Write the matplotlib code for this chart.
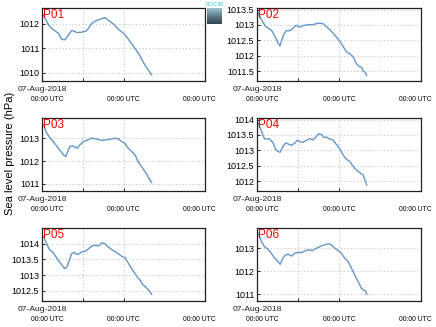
import numpy as np
import matplotlib
matplotlib.use("Agg")
import matplotlib.pyplot as plt
from matplotlib.transforms import ScaledTranslation
from matplotlib.colors import LinearSegmentedColormap

plt.rcParams['font.family'] = ['Liberation Sans', 'DejaVu Sans']

# Hours since 07-Aug-2018 00:00 UTC and sea level pressure (hPa) per station
hours_p01 = [0.4, 1.9, 2.8, 4.8, 5.8, 6.8, 7.8, 8.7, 9.4, 10.2, 11.7, 13.0, 13.7, 14.7,
             15.7, 17.1, 18.6, 19.5, 21.0, 22.5, 24.0, 24.9, 25.9, 27.4, 28.9, 30.0, 31.3, 32.3]
slp_p01 = [1012.37, 1011.96, 1011.82, 1011.62, 1011.37, 1011.35, 1011.55, 1011.73, 1011.71,
           1011.65, 1011.66, 1011.71, 1011.82, 1012.03, 1012.12, 1012.19, 1012.26, 1012.16,
           1012.00, 1011.78, 1011.62, 1011.48, 1011.28, 1011.00, 1010.69, 1010.39, 1010.12, 1009.92]

hours_p02 = [0.3, 1.3, 2.5, 3.7, 4.5, 5.5, 6.2, 6.7, 7.1, 7.8, 8.6, 9.6, 10.6, 11.5, 12.5,
             13.5, 15.0, 16.4, 17.9, 19.4, 20.3, 21.8, 23.3, 24.3, 25.2, 26.2, 27.7, 28.4,
             29.1, 29.9, 30.6, 31.1, 31.6, 32.1]
slp_p02 = [1013.39, 1013.17, 1012.95, 1012.87, 1012.79, 1012.57, 1012.41, 1012.32, 1012.46,
           1012.68, 1012.82, 1012.81, 1012.90, 1012.99, 1012.93, 1012.98, 1013.01, 1013.01,
           1013.06, 1013.04, 1012.95, 1012.79, 1012.60, 1012.46, 1012.30, 1012.13, 1012.02,
           1011.91, 1011.74, 1011.65, 1011.63, 1011.50, 1011.47, 1011.36]

hours_p03 = [0.4, 1.4, 2.4, 3.3, 4.3, 5.3, 6.3, 7.0, 7.6, 8.2, 9.0, 9.7, 10.4, 11.2, 12.2,
             13.1, 14.6, 16.1, 17.6, 19.0, 20.5, 21.5, 22.5, 23.4, 24.4, 25.4, 26.4, 27.4,
             28.1, 28.9, 29.6, 30.3, 31.0, 31.6, 32.3]
slp_p03 = [1013.58, 1013.22, 1013.00, 1012.85, 1012.66, 1012.46, 1012.27, 1012.20, 1012.42,
           1012.64, 1012.66, 1012.61, 1012.56, 1012.71, 1012.85, 1012.90, 1013.00, 1012.96,
           1012.90, 1012.93, 1012.96, 1013.00, 1012.97, 1012.85, 1012.78, 1012.56, 1012.42,
           1012.27, 1012.05, 1011.83, 1011.69, 1011.54, 1011.39, 1011.20, 1011.06]

hours_p04 = [0.3, 1.3, 2.2, 3.7, 4.7, 5.5, 6.2, 6.8, 7.6, 8.4, 9.1, 10.1, 11.1, 11.8, 12.5,
             13.5, 14.5, 15.5, 16.4, 17.4, 18.1, 18.9, 19.6, 20.3, 21.3, 22.3, 23.3, 24.3,
             25.2, 26.2, 27.2, 27.9, 28.6, 29.6, 30.4, 31.1, 31.4, 31.8, 32.1]
slp_p04 = [1013.89, 1013.62, 1013.37, 1013.37, 1013.24, 1013.02, 1012.96, 1012.94, 1013.13,
           1013.24, 1013.21, 1013.16, 1013.24, 1013.33, 1013.28, 1013.26, 1013.33, 1013.38,
           1013.34, 1013.45, 1013.54, 1013.51, 1013.42, 1013.43, 1013.37, 1013.33, 1013.18,
           1013.04, 1012.85, 1012.71, 1012.63, 1012.52, 1012.41, 1012.32, 1012.25, 1012.20,
           1012.09, 1011.98, 1011.87]

hours_p05 = [0.4, 1.4, 2.2, 3.1, 3.8, 4.8, 5.8, 6.7, 7.3, 7.9, 8.7, 9.4, 10.2, 10.9, 11.7,
             12.7, 13.7, 14.7, 15.7, 16.7, 17.6, 18.6, 19.6, 20.6, 21.6, 22.5, 23.5, 24.5,
             25.5, 26.4, 27.4, 28.1, 28.9, 29.6, 30.3, 31.0, 31.6, 32.3]
slp_p05 = [1014.23, 1014.00, 1013.81, 1013.74, 1013.63, 1013.47, 1013.33, 1013.21, 1013.26,
           1013.42, 1013.68, 1013.73, 1013.66, 1013.68, 1013.74, 1013.76, 1013.84, 1013.93,
           1013.95, 1013.93, 1014.03, 1014.00, 1013.89, 1013.81, 1013.74, 1013.68, 1013.60,
           1013.55, 1013.37, 1013.21, 1013.05, 1012.94, 1012.84, 1012.71, 1012.65, 1012.57,
           1012.50, 1012.39]

hours_p06 = [0.3, 1.3, 2.2, 3.2, 4.2, 5.2, 6.2, 6.8, 7.4, 8.1, 9.1, 10.1, 11.0, 12.0, 13.0,
             14.0, 15.0, 16.2, 17.4, 18.4, 19.6, 20.8, 21.8, 22.8, 23.8, 24.7, 25.7, 26.7,
             27.7, 28.4, 29.1, 29.9, 30.6, 31.3, 31.8, 32.1]
slp_p06 = [1013.66, 1013.29, 1013.07, 1012.96, 1012.78, 1012.56, 1012.42, 1012.30, 1012.52,
           1012.68, 1012.75, 1012.66, 1012.78, 1012.82, 1012.81, 1012.88, 1012.93, 1012.90,
           1013.00, 1013.07, 1013.15, 1013.19, 1013.15, 1013.00, 1012.90, 1012.78, 1012.56,
           1012.42, 1012.12, 1011.90, 1011.69, 1011.47, 1011.25, 1011.18, 1011.15, 1011.00]

station_names = ["P01", "P02", "P03", "P04", "P05", "P06"]
station_hours = [hours_p01, hours_p02, hours_p03, hours_p04, hours_p05, hours_p06]
station_slp = [slp_p01, slp_p02, slp_p03, slp_p04, slp_p05, slp_p06]
y_limits = [(1009.67, 1012.65), (1011.18, 1013.55), (1010.69, 1013.88),
            (1011.68, 1014.05), (1012.18, 1014.5), (1010.71, 1013.88)]
y_ticks = [[1010, 1011, 1012], [1011.5, 1012, 1012.5, 1013, 1013.5], [1011, 1012, 1013],
           [1012, 1012.5, 1013, 1013.5, 1014], [1012.5, 1013, 1013.5, 1014], [1011, 1012, 1013]]
x_tick_hours = [0, 24, 48]
x_tick_labels = ["00:00 UTC", "00:00 UTC", "00:00 UTC"]
date_label = "07-Aug-2018"

W, H = 436, 327
fig = plt.figure(figsize=(W / 100, H / 100), dpi=100)

col_left = [42, 257]
col_width = [163, 164]
row_top = [8, 118, 228]
row_height = 73

line_color = "#6496c8"
grid_kw = dict(color="#c4c4c4", linestyle=(0, (1, 2)), linewidth=0.8)

for i, name in enumerate(station_names):
    r, c = divmod(i, 2)
    x0 = col_left[c] / W
    y0 = 1 - (row_top[r] + row_height) / H
    ax = fig.add_axes([x0, y0, col_width[c] / W, row_height / H])
    ax.plot(station_hours[i], station_slp[i], color=line_color, linewidth=1.0)
    ax.set_xlim(0, 48)
    ax.set_ylim(*y_limits[i])
    ax.set_yticks(y_ticks[i])
    ax.set_yticklabels([f"{v:g}" for v in y_ticks[i]], fontsize=6.5)
    ax.set_xticks(x_tick_hours)
    ax.set_xticks([12], minor=True)
    ax.set_xticklabels(x_tick_labels, fontsize=4.9)
    ax.tick_params(axis="both", which="both", direction="in", length=2, width=0.6)
    ax.tick_params(axis="x", which="major", pad=10.5)
    ax.tick_params(axis="y", pad=2)
    ax.grid(True, which="both", **grid_kw)
    for s in ax.spines.values():
        s.set_linewidth(0.9)
        s.set_color("#202020")
    # nudge the outer time labels inward
    labels = ax.get_xticklabels()
    labels[0].set_transform(labels[0].get_transform() + ScaledTranslation(5 / 100, 0, fig.dpi_scale_trans))
    labels[-1].set_transform(labels[-1].get_transform() + ScaledTranslation(-6 / 100, 0, fig.dpi_scale_trans))
    ax.text(0.0, -8.5 / row_height, date_label, transform=ax.transAxes, ha="center",
            va="center", fontsize=6.1, color="#202020")
    ax.text(0.006, 0.985, name, transform=ax.transAxes, ha="left", va="top",
            fontsize=8.5, color="#ff0000")

fig.text(10 / W, 1 - 153 / H, "Sea level pressure (hPa)", rotation=90,
         ha="center", va="center", fontsize=8)

# small institutional logo between the top panels
logo = fig.add_axes([207 / W, 1 - 24 / H, 15 / W, 16 / H])
grad = np.linspace(0, 1, 64).reshape(-1, 1)
cmap = LinearSegmentedColormap.from_list("logo", ["#9ec3cf", "#5d7a88", "#34444e"])
logo.imshow(grad, aspect="auto", cmap=cmap, extent=(0, 1, 0, 1))
logo.set_axis_off()
fig.text(214.5 / W, 1 - 5 / H, "SOCIB", ha="center", va="center", fontsize=4.5,
         color="#3cc0d8")

fig.savefig("out.png", dpi=100)
